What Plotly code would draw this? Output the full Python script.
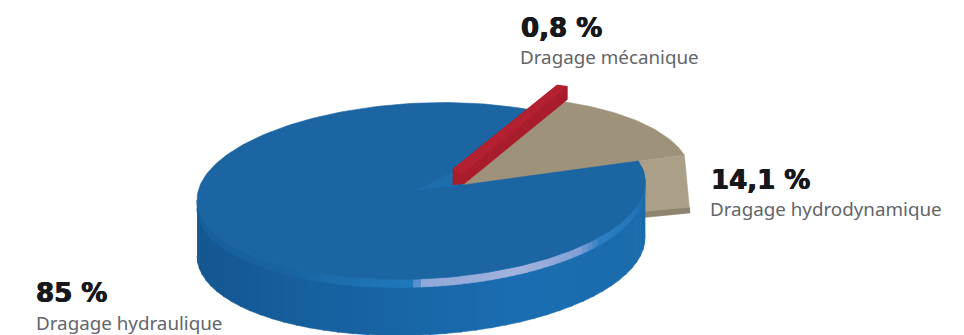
import numpy as np
import plotly.graph_objects as go

# Data
categories = ["Dragage hydraulique", "Dragage hydrodynamique", "Dragage mécanique"]
shares = [85, 14.1, 0.8]
share_labels = ["85 %", "14,1 %", "0,8 %"]

total = sum(shares)
sweeps = [s / total * 360 for s in shares]

# Projection of the disc on the page
RX, RY, TILT = 224, 88, 9
BLUE_C = (421, 191)
TAN_C = (467, 185)
RED_C = (472, 170)
HUB = (463, 185)
LIP = 8
WALL = 56
TAN_WALL = 46
RED_WALL = 13
START = 14.0   # angle of the blue edge on the right
TUCK = 6.0     # blue runs on a little under the red bar


def pts(c, t, dy=0):
    t = np.radians(np.asarray(t, float))
    return c[0] + RX * np.cos(t), c[1] - RY * np.sin(t) - TILT * np.cos(t) + dy


def shade(knots, colors, t):
    rgb = [[int(c[j:j + 2], 16) for j in (1, 3, 5)] for c in colors]
    return "#%02x%02x%02x" % tuple(round(np.interp(t, knots, [c[k] for c in rgb])) for k in range(3))


fig = go.Figure()


def poly(x, y, color, width=0.6):
    fig.add_trace(go.Scatter(x=list(x), y=list(y), mode="lines", fill="toself", fillcolor=color,
                             line=dict(color=color, width=width), hoverinfo="skip", showlegend=False))


blue_from = START
blue_to = START - sweeps[0] - TUCK
tan_to = START
tan_from = START + sweeps[1]
red_to = tan_from
red_from = tan_from + sweeps[2]

# Tan radial wall, partly behind the blue
ex, ey = pts(TAN_C, tan_to)
fx, fy = pts(TAN_C, tan_to - 8, TAN_WALL)
poly([HUB[0], ex, fx, HUB[0]], [HUB[1], ey, fy, HUB[1] + TAN_WALL + 4], "#ab9f87")
poly([HUB[0], fx, fx, HUB[0]], [HUB[1] + TAN_WALL - 2, fy - 5, fy, HUB[1] + TAN_WALL + 4], "#8f846f")

# Tan top
t = np.linspace(tan_from, tan_to, 40)
x, y = pts(TAN_C, t)
poly(np.r_[HUB[0], x], np.r_[HUB[1], y], "#9e927b")

# Blue wall, shaded segment by segment
wall_k = [180, 215, 255, 290, 330, 372]
wall_c = ["#15558c", "#155a96", "#1763a4", "#1a6db0", "#1a6cae", "#1a6ba9"]
grid = np.arange(180, 372, 4.0)
for a, b in zip(grid[:-1], grid[1:]):
    s = np.linspace(a, b + 0.5, 3)
    xa, ya = pts(BLUE_C, s, 0)
    xb, yb = pts(BLUE_C, s, WALL)
    poly(np.r_[xa, xb[::-1]], np.r_[ya, yb[::-1]], shade(wall_k, wall_c, a))

# Bevel lip with the reflection
lip_k = [180, 230, 266, 270, 295, 314, 322, 345, 372]
lip_c = ["#155f9c", "#17639f", "#2079bd", "#8fa8da", "#a3b3dd", "#7f9fd6", "#2c7fc3", "#1f72b4", "#1b6aa8"]
grid = np.arange(180, 372, 2.0)
for a, b in zip(grid[:-1], grid[1:]):
    s = np.linspace(a, b + 0.4, 3)
    xa, ya = pts(BLUE_C, s, 0)
    xb, yb = pts(BLUE_C, s, LIP)
    poly(np.r_[xa, xb[::-1]], np.r_[ya, yb[::-1]], shade(lip_k, lip_c, a))

# Blue top
t = np.linspace(blue_from, blue_to, 240)
x, y = pts(BLUE_C, t)
poly(np.r_[HUB[0], x], np.r_[HUB[1], y], "#1b65a2")

# Faint light streak near the hub
poly([418, 452, 458], [190, 172, 186], "#1d6dad")

# Red bar
t = np.linspace(red_from, red_to, 8)
x, y = pts(RED_C, t)
bx, by = pts(RED_C, red_to, RED_WALL)
poly(np.r_[453, 453, x, bx, 464], np.r_[185, 169, y, by, 184], "#a91c2b")
poly(np.r_[453, x, 461], np.r_[169, y, 175], "#b3202f")

# Labels
anno = [
    (34, 293, 0), (34, 323, 0, "sub"),
    (709, 180, 1), (708, 209, 1, "sub"),
    (519, 28, 2), (518, 57, 2, "sub"),
]
for a in anno:
    sub = len(a) == 4
    fig.add_annotation(
        x=a[0], y=a[1], xanchor="left", yanchor="middle", showarrow=False,
        text=categories[a[2]] if sub else share_labels[a[2]],
        font=dict(family="Noto Sans" if sub else "DejaVu Sans", size=18.8 if sub else 26,
                  color="#63656a" if sub else "#17181a", weight=400 if sub else 800,
                  shadow="none" if sub else "0.6px 0 0 #17181a, -0.4px 0 0 #17181a"),
        xref="x", yref="y",
    )

fig.update_layout(
    width=964, height=335, margin=dict(l=0, r=0, t=0, b=0),
    paper_bgcolor="white", plot_bgcolor="white", showlegend=False,
    xaxis=dict(range=[0, 964], visible=False, fixedrange=True),
    yaxis=dict(range=[335, 0], visible=False, fixedrange=True),
)
fig.write_html("out.html", config={"displayModeBar": False},
               post_script="document.body.style.margin='0';")
